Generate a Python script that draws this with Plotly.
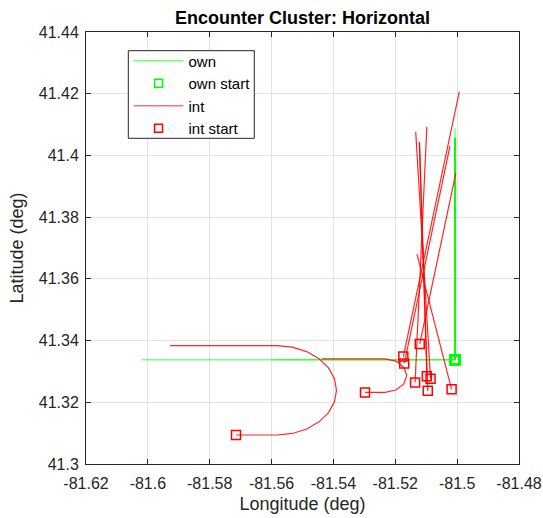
import plotly.graph_objects as go

# ---------------- data ----------------
own_start_lon = -81.5007
own_start_lat = 41.3338

# own trajectories (each starts at own start)
own_end_lon = [-81.6020, -81.5594, -81.5007, -81.5007, -81.5007, -81.5007, -81.5007, -81.5007, -81.5007, -81.5007]
own_end_lat = [41.3338, 41.3338, 41.4088, 41.4056, 41.4056, 41.4056, 41.4056, 41.4056, 41.4056, 41.4056]

# intruder straight tracks: start -> end
int_start_lon = [-81.5174, -81.5171, -81.5121, -81.5136, -81.5098, -81.5086, -81.5095, -81.5018]
int_start_lat = [41.3348, 41.3326, 41.3389, 41.3264, 41.3284, 41.3276, 41.3237, 41.3242]
int_end_lon = [-81.4993, -81.5023, -81.5004, -81.5098, -81.5122, -81.5134, -81.5122, -81.5130]
int_end_lat = [41.4207, 41.4031, 41.3944, 41.4093, 41.4043, 41.4077, 41.4043, 41.3680]

# intruder turning track (large loop)
loop1_lon = [-81.5715, -81.55825, -81.55327, -81.54863, -81.54465, -81.54159, -81.53967, -81.53901,
             -81.53967, -81.54159, -81.54465, -81.54863, -81.55327, -81.55825, -81.5928]
loop1_lat = [41.3094, 41.3094, 41.30990, 41.31135, 41.31365, 41.31665, 41.32014, 41.32389,
             41.32764, 41.33113, 41.33413, 41.33643, 41.33788, 41.33838, 41.33838]

# intruder turning track (small loop)
loop2_lon = [-81.5298, -81.5233, -81.5198, -81.51724, -81.5163, -81.51724, -81.5198, -81.5233, -81.5438]
loop2_lat = [41.3232, 41.3232, 41.32397, 41.32595, 41.32865, 41.33135, 41.33333, 41.33405, 41.33405]

x_ticks = [-81.62, -81.6, -81.58, -81.56, -81.54, -81.52, -81.5, -81.48]
x_labels = ["-81.62", "-81.6", "-81.58", "-81.56", "-81.54", "-81.52", "-81.5", "-81.48"]
y_ticks = [41.3, 41.32, 41.34, 41.36, 41.38, 41.4, 41.42, 41.44]
y_labels = ["41.3", "41.32", "41.34", "41.36", "41.38", "41.4", "41.42", "41.44"]

# ---------------- styles ----------------
OWN_LINE = "rgba(0,255,0,0.5)"
INT_LINE = "rgba(255,0,0,0.85)"
TXT = "#262626"
FONT = "Liberation Sans, Arial, sans-serif"
W, H = 543, 518
ML, MR, MT, MB = 86, 24, 32, 54
PW, PH = W - ML - MR, H - MT - MB


def px_to_paper(px, py):
    return (px - ML) / PW, 1 - (py - MT) / PH


fig = go.Figure()

# own lines
for lo, la in zip(own_end_lon, own_end_lat):
    fig.add_trace(go.Scatter(
        x=[own_start_lon, lo], y=[own_start_lat, la], mode="lines",
        line=dict(color=OWN_LINE, width=1.5), showlegend=False, hoverinfo="skip"))

# own start markers
fig.add_trace(go.Scatter(
    x=[own_start_lon] * len(own_end_lon), y=[own_start_lat] * len(own_end_lat),
    mode="markers", showlegend=False,
    marker=dict(symbol="square-open", size=9, color="#00ff00", line=dict(width=2.2, color="#00ff00"))))

# int lines
for lo0, la0, lo1, la1 in zip(int_start_lon, int_start_lat, int_end_lon, int_end_lat):
    fig.add_trace(go.Scatter(
        x=[lo0, lo1], y=[la0, la1], mode="lines",
        line=dict(color=INT_LINE, width=1.2), showlegend=False))
for lx, ly in [(loop1_lon, loop1_lat), (loop2_lon, loop2_lat)]:
    fig.add_trace(go.Scatter(
        x=lx, y=ly, mode="lines", line=dict(color=INT_LINE, width=1.2), showlegend=False))

# int start markers
fig.add_trace(go.Scatter(
    x=int_start_lon + [loop1_lon[0], loop2_lon[0]],
    y=int_start_lat + [loop1_lat[0], loop2_lat[0]],
    mode="markers", showlegend=False,
    marker=dict(symbol="square-open", size=9, color="#ff0000", line=dict(width=1.5, color="#ff0000"))))

# legend-only entries
fig.add_trace(go.Scatter(x=[None], y=[None], mode="lines", name="own",
                         line=dict(color="rgba(0,255,0,0.55)", width=1.5)))
fig.add_trace(go.Scatter(x=[None], y=[None], mode="markers", name="own start",
                         marker=dict(symbol="square-open", size=8, color="#00ff00",
                                     line=dict(width=1.5, color="#00ff00"))))
fig.add_trace(go.Scatter(x=[None], y=[None], mode="lines", name="int",
                         line=dict(color="rgba(255,0,0,0.55)", width=1.5)))
fig.add_trace(go.Scatter(x=[None], y=[None], mode="markers", name="int start",
                         marker=dict(symbol="square-open", size=8, color="#ff0000",
                                     line=dict(width=1.5, color="#ff0000"))))

axis_common = dict(
    showgrid=True, gridcolor="#e3e3e3", gridwidth=1,
    showline=True, linecolor=TXT, linewidth=1, mirror="ticks",
    ticks="inside", ticklen=5, tickcolor=TXT,
    tickfont=dict(family=FONT, size=16, color=TXT),
    zeroline=False, automargin=False,
)

# legend box (drawn as a shape)
bx0, by0 = px_to_paper(128.3, 50.7)
bx1, by1 = px_to_paper(254.3, 138.3)
lgx, lgy = px_to_paper(128.5, 44.5)

fig.update_layout(
    width=W, height=H,
    margin=dict(l=ML, r=MR, t=MT, b=MB),
    paper_bgcolor="white", plot_bgcolor="white",
    font=dict(family=FONT, color=TXT),
    title=dict(text="<b>Encounter Cluster: Horizontal</b>", x=(86 + 519) / 2 / W, xanchor="center",
               y=1 - 18 / H, yanchor="middle", font=dict(family=FONT, size=18, color="#000000")),
    xaxis=dict(range=[-81.62, -81.48], tickvals=x_ticks, ticktext=x_labels, ticklabelstandoff=5,
               title=dict(text="Longitude (deg)", font=dict(family=FONT, size=18, color=TXT), standoff=6),
               **axis_common),
    yaxis=dict(range=[41.3, 41.44], tickvals=y_ticks, ticktext=y_labels, ticklabelstandoff=3,
               title=dict(text="Latitude (deg)", font=dict(family=FONT, size=18, color=TXT), standoff=10),
               **axis_common),
    shapes=[dict(type="rect", xref="paper", yref="paper", x0=bx0, y0=by0, x1=bx1, y1=by1,
                 fillcolor="white", line=dict(color=TXT, width=1), layer="above")],
    legend=dict(x=lgx, y=lgy, xanchor="left", yanchor="top",
                bgcolor="rgba(0,0,0,0)", borderwidth=0,
                font=dict(family=FONT, size=15, color="#000000"),
                itemwidth=50, tracegroupgap=0),
    showlegend=True,
)

fig.write_html("out.html")
